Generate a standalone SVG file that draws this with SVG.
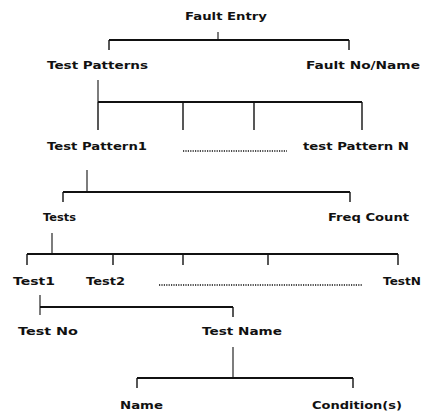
<svg xmlns="http://www.w3.org/2000/svg" width="423" height="412" viewBox="0 0 423 412">
  <style>
    text { font-family: "DejaVu Sans", "Liberation Sans", sans-serif; font-weight: bold; font-size: 10px; fill: #111; }
    .bar { stroke: #111; stroke-width: 2; fill: none; }
    .drop { stroke: #111; stroke-width: 1.4; fill: none; }
    .stem { stroke: #111; stroke-width: 1.1; fill: none; }
    .dots { stroke: #111; stroke-width: 1.6; stroke-dasharray: 1.2 1.2; fill: none; }
  </style>
  <rect width="423" height="412" fill="#fff"/>

  <g id="connectors">
    <!-- Fault Entry -->
    <line class="stem" x1="218" y1="32" x2="218" y2="40"/>
    <line class="bar" x1="109" y1="40" x2="349" y2="40"/>
    <line class="drop" x1="109" y1="40" x2="109" y2="50"/>
    <line class="drop" x1="349" y1="40" x2="349" y2="50"/>
    <!-- Test Patterns -->
    <line class="stem" x1="98" y1="80" x2="98" y2="102"/>
    <line class="bar" x1="98" y1="102" x2="362" y2="102"/>
    <line class="drop" x1="98" y1="102" x2="98" y2="130"/>
    <line class="drop" x1="183" y1="102" x2="183" y2="130"/>
    <line class="drop" x1="254" y1="102" x2="254" y2="130"/>
    <line class="drop" x1="362" y1="102" x2="362" y2="130"/>
    <line class="dots" x1="183" y1="151" x2="287" y2="151"/>
    <!-- Test Pattern1 -->
    <line class="stem" x1="87" y1="170" x2="87" y2="192"/>
    <line class="bar" x1="63" y1="192" x2="350" y2="192"/>
    <line class="drop" x1="63" y1="192" x2="63" y2="202"/>
    <line class="drop" x1="350" y1="192" x2="350" y2="202"/>
    <!-- Tests -->
    <line class="stem" x1="52" y1="233" x2="52" y2="254"/>
    <line class="bar" x1="27" y1="254" x2="398" y2="254"/>
    <line class="drop" x1="27" y1="254" x2="27" y2="265"/>
    <line class="drop" x1="113" y1="254" x2="113" y2="265"/>
    <line class="drop" x1="183" y1="254" x2="183" y2="265"/>
    <line class="drop" x1="268" y1="254" x2="268" y2="265"/>
    <line class="drop" x1="398" y1="254" x2="398" y2="265"/>
    <line class="dots" x1="159" y1="285" x2="363" y2="285"/>
    <!-- Test1 -->
    <line class="stem" x1="40" y1="295" x2="40" y2="315"/>
    <line class="bar" x1="40" y1="307" x2="233" y2="307"/>
    <line class="drop" x1="233" y1="307" x2="233" y2="317"/>
    <!-- Test Name -->
    <line class="stem" x1="233" y1="347" x2="233" y2="378"/>
    <line class="bar" x1="137" y1="378" x2="353" y2="378"/>
    <line class="drop" x1="137" y1="378" x2="137" y2="388"/>
    <line class="drop" x1="353" y1="378" x2="353" y2="388"/>
  </g>

  <g id="fault-entry"><text x="185" y="20" textLength="82" lengthAdjust="spacingAndGlyphs">Fault Entry</text></g>
  <g id="test-patterns"><text x="47" y="69" textLength="101" lengthAdjust="spacingAndGlyphs">Test Patterns</text></g>
  <g id="fault-no-name"><text x="306" y="69" textLength="114" lengthAdjust="spacingAndGlyphs">Fault No/Name</text></g>
  <g id="test-pattern-1"><text x="47" y="150" textLength="100" lengthAdjust="spacingAndGlyphs">Test Pattern1</text></g>
  <g id="test-pattern-n"><text x="303" y="150" textLength="106" lengthAdjust="spacingAndGlyphs">test Pattern N</text></g>
  <g id="tests"><text x="43" y="221" textLength="33" lengthAdjust="spacingAndGlyphs">Tests</text></g>
  <g id="freq-count"><text x="328" y="221" textLength="81" lengthAdjust="spacingAndGlyphs">Freq Count</text></g>
  <g id="test-1"><text x="13" y="285" textLength="42" lengthAdjust="spacingAndGlyphs">Test1</text></g>
  <g id="test-2"><text x="86" y="285" textLength="39" lengthAdjust="spacingAndGlyphs">Test2</text></g>
  <g id="test-n"><text x="383" y="285" textLength="38" lengthAdjust="spacingAndGlyphs">TestN</text></g>
  <g id="test-no"><text x="18" y="335" textLength="60" lengthAdjust="spacingAndGlyphs">Test No</text></g>
  <g id="test-name"><text x="202" y="335" textLength="80" lengthAdjust="spacingAndGlyphs">Test Name</text></g>
  <g id="name"><text x="120" y="409" textLength="43" lengthAdjust="spacingAndGlyphs">Name</text></g>
  <g id="conditions"><text x="312" y="409" textLength="90" lengthAdjust="spacingAndGlyphs">Condition(s)</text></g>
</svg>
